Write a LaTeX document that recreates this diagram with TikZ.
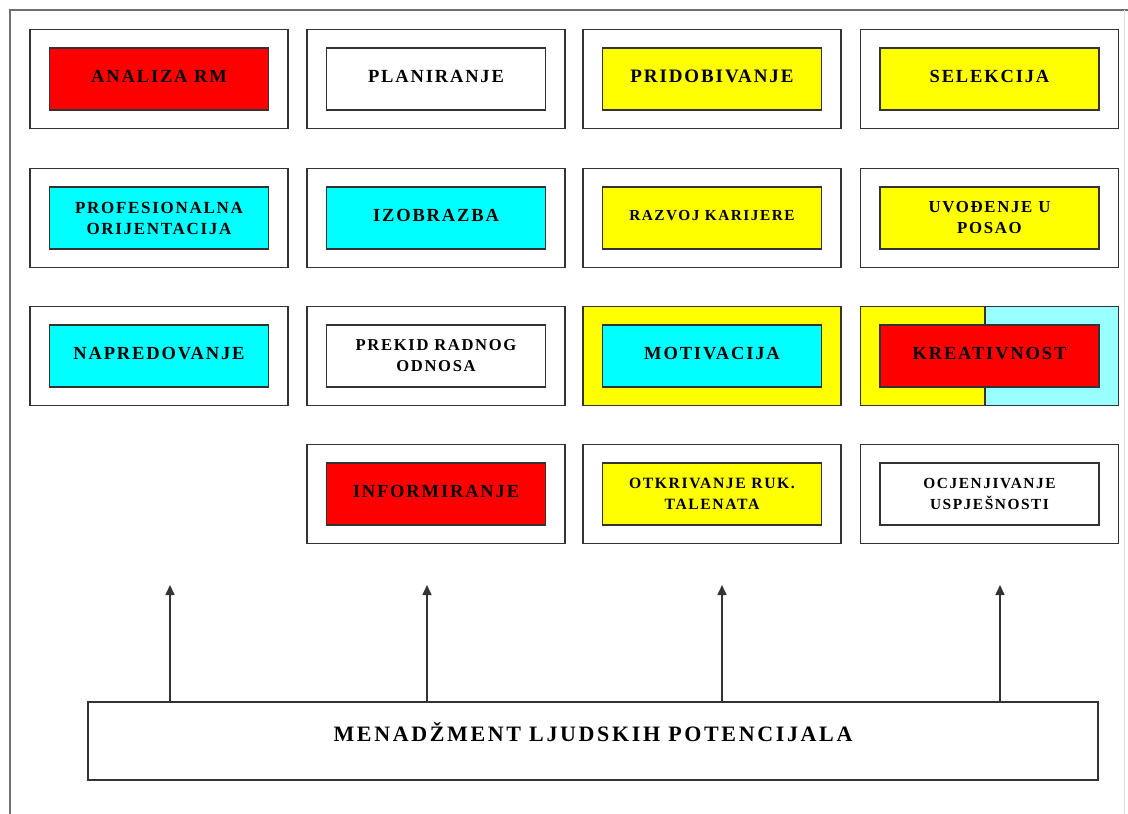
\documentclass[tikz,border=0pt]{standalone}
\usepackage{fontspec}
\setmainfont{Liberation Serif}
\newfontfamily\lblfont[LetterSpace=10]{Liberation Serif}
\newfontfamily\botfont[LetterSpace=12]{Liberation Serif}
\usetikzlibrary{arrows.meta}
\definecolor{rd}{HTML}{FF0000}
\definecolor{yl}{HTML}{FFFF00}
\definecolor{cy}{HTML}{00FFFF}
\definecolor{lcy}{HTML}{99FFFF}
\definecolor{frm}{HTML}{707070}
\definecolor{edge}{HTML}{333333}
\begin{document}
\begin{tikzpicture}[x=1pt,y=-1pt,
  outerbox/.style={draw=edge,line width=1.6pt,minimum width=258pt,minimum height=99pt,inner sep=0pt},
  innerbox/.style={draw=edge,line width=1.3pt,minimum width=219pt,minimum height=62pt,inner sep=0pt,align=center,font=\lblfont\bfseries\fontsize{18.5}{20}\selectfont},
  lift/.style={text depth=5pt},
  txtsize/.style={font=\lblfont\bfseries\fontsize{#1}{21}\selectfont},
  arr/.style={draw=edge,line width=1.6pt,-{Triangle[length=10pt,width=9pt]}}]
\useasboundingbox (0,0) rectangle (1128,814);
\fill[white] (0,0) rectangle (1128,814);
% frame
\draw[frm,line width=2.5pt] (10,814) -- (10,10) -- (1128,10);
\draw[gray!25,line width=1pt] (1124,10) -- (1124,814);
% row 1
\node[outerbox] (o11) at (159,79) {};
\node[innerbox,lift,fill=rd] (i11) at (159,79) {ANALIZA RM};
\node[outerbox] (o12) at (436,79) {};
\node[innerbox,lift,fill=white] (i12) at (436,79) {PLANIRANJE};
\node[outerbox] (o13) at (712,79) {};
\node[innerbox,lift,fill=yl,txtsize=19] (i13) at (712,79) {PRIDOBIVANJE};
\node[outerbox] (o14) at (989.5,79) {};
\node[innerbox,lift,fill=yl] (i14) at (989.5,79) {SELEKCIJA};
% row 2
\node[outerbox] (o21) at (159,218) {};
\node[innerbox,txtsize=17,fill=cy] (i21) at (159,218) {PROFESIONALNA\\ORIJENTACIJA};
\node[outerbox] (o22) at (436,218) {};
\node[innerbox,lift,fill=cy] (i22) at (436,218) {IZOBRAZBA};
\node[outerbox] (o23) at (712,218) {};
\node[innerbox,lift,txtsize=15.3,fill=yl] (i23) at (712,218) {RAZVOJ KARIJERE};
\node[outerbox] (o24) at (989.5,218) {};
\node[innerbox,txtsize=16.8,fill=yl] (i24) at (989.5,218) {UVOĐENJE U\\POSAO};
% row 3
\node[outerbox] (o31) at (159,356) {};
\node[innerbox,lift,fill=cy] (i31) at (159,356) {NAPREDOVANJE};
\node[outerbox] (o32) at (436,356) {};
\node[innerbox,txtsize=16.6,fill=white] (i32) at (436,356) {PREKID RADNOG\\ODNOSA};
\node[outerbox,fill=yl] (o33) at (712,356) {};
\node[innerbox,lift,fill=cy] (i33) at (712,356) {MOTIVACIJA};
\fill[yl] (861,306.5) rectangle (985,405.5);
\fill[lcy] (985,306.5) rectangle (1118,405.5);
\draw[edge,line width=1.3pt] (985,306.5) -- (985,405.5);
\node[outerbox] (o34) at (989.5,356) {};
\node[innerbox,lift,fill=rd] (i34) at (989.5,356) {KREATIVNOST};
% row 4
\node[outerbox] (o42) at (436,494) {};
\node[innerbox,lift,fill=rd] (i42) at (436,494) {INFORMIRANJE};
\node[outerbox] (o43) at (712,494) {};
\node[innerbox,txtsize=15.7,fill=yl] (i43) at (712,494) {OTKRIVANJE RUK.\\TALENATA};
\node[outerbox] (o44) at (989.5,494) {};
\node[innerbox,txtsize=15.4,fill=white] (i44) at (989.5,494) {OCJENJIVANJE\\USPJEŠNOSTI};
% bottom box
\node[draw=edge,line width=1.6pt,minimum width=1010pt,minimum height=78pt,inner sep=0pt,
  font=\botfont\bfseries\fontsize{22}{26}\selectfont] (bot) at (593,741)
  {\raisebox{19pt}{MENADŽMENT LJUDSKIH POTENCIJALA}};
% arrows
\coordinate (a1) at (170,585);
\coordinate (a2) at (427,585);
\coordinate (a3) at (722,585);
\coordinate (a4) at (1000,585);
\draw[arr] (bot.north -| a1) -- (a1);
\draw[arr] (bot.north -| a2) -- (a2);
\draw[arr] (bot.north -| a3) -- (a3);
\draw[arr] (bot.north -| a4) -- (a4);
\end{tikzpicture}
\end{document}
